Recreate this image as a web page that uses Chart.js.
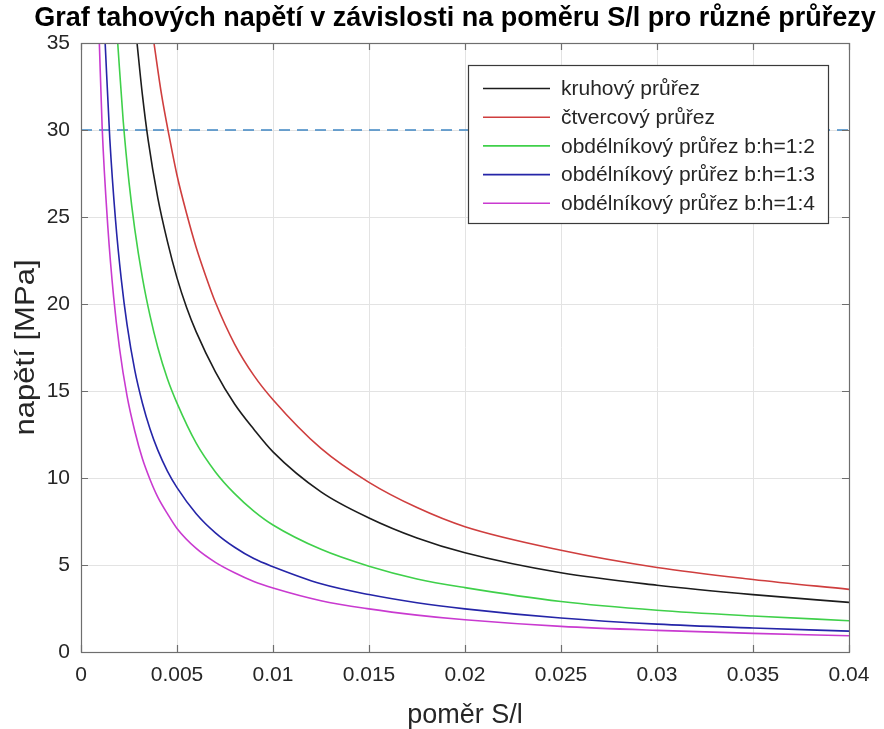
<!DOCTYPE html>
<html>
<head>
<meta charset="utf-8">
<script src="https://cdn.jsdelivr.net/npm/chart.js@4/dist/chart.umd.min.js"></script>
<style>
  html, body { margin: 0; padding: 0; background: #ffffff; }
  #wrap { width: 884px; height: 729px; }
</style>
</head>
<body>
<div id="wrap"><canvas id="graf" width="884" height="729"></canvas></div>
<script>
// Poměr S/l (x) a tahové napětí v MPa (y) pro jednotlivé průřezy
const kruhX = [0.0029, 0.0032, 0.0035, 0.004, 0.0045, 0.005, 0.0055, 0.006, 0.007, 0.008, 0.009, 0.01, 0.0125, 0.015, 0.0175, 0.02, 0.025, 0.03, 0.035, 0.04];
const kruhY = [35.2, 32.0, 29.4, 26.1, 23.6, 21.5, 19.8, 18.4, 16.1, 14.25, 12.8, 11.5, 9.2, 7.7, 6.55, 5.7, 4.55, 3.84, 3.3, 2.85];

const ctverecX = [0.0038, 0.0042, 0.0046, 0.005, 0.0055, 0.006, 0.0065, 0.007, 0.008, 0.009, 0.01, 0.0125, 0.015, 0.0175, 0.02, 0.025, 0.03, 0.035, 0.04];
const ctverecY = [35.0, 32.0, 29.6, 27.4, 25.2, 23.25, 21.6, 20.1, 17.7, 15.9, 14.5, 11.7, 9.75, 8.3, 7.2, 5.85, 4.86, 4.17, 3.6];

const obd12X = [0.0019, 0.0022, 0.0025, 0.0028, 0.0032, 0.0036, 0.004, 0.0045, 0.005, 0.006, 0.007, 0.008, 0.009, 0.01, 0.0125, 0.015, 0.0175, 0.02, 0.025, 0.03, 0.035, 0.04];
const obd12Y = [35.2, 30.5, 27.0, 24.3, 21.5, 19.3, 17.5, 15.7, 14.3, 12.0, 10.35, 9.1, 8.1, 7.3, 5.9, 4.93, 4.2, 3.7, 2.9, 2.4, 2.07, 1.8];

const obd13X = [0.00125, 0.0015, 0.0018, 0.0021, 0.0024, 0.0028, 0.0032, 0.0036, 0.004, 0.0045, 0.005, 0.006, 0.007, 0.008, 0.009, 0.01, 0.0125, 0.015, 0.0175, 0.02, 0.025, 0.03, 0.035, 0.04];
const obd13Y = [35.2, 29.5, 24.8, 21.4, 18.8, 16.2, 14.3, 12.8, 11.6, 10.4, 9.45, 7.95, 6.85, 6.02, 5.37, 4.9, 3.92, 3.3, 2.83, 2.48, 1.95, 1.6, 1.38, 1.2];

const obd14X = [0.00095, 0.0011, 0.0014, 0.0017, 0.002, 0.0024, 0.0028, 0.0032, 0.0036, 0.004, 0.0045, 0.005, 0.006, 0.007, 0.008, 0.009, 0.01, 0.0125, 0.015, 0.0175, 0.02, 0.025, 0.03, 0.035, 0.04];
const obd14Y = [35.2, 30.2, 24.4, 20.4, 17.5, 14.7, 12.7, 11.1, 9.9, 8.9, 7.95, 7.1, 5.95, 5.15, 4.55, 4.05, 3.68, 2.95, 2.48, 2.12, 1.85, 1.47, 1.24, 1.07, 0.93];

// Mez pevnosti (vodorovná čárkovaná čára)
const mezX = [0, 0.04];
const mezY = [30, 30];

const nazvy = ['kruhový průřez', 'čtvercový průřez', 'obdélníkový průřez b:h=1:2', 'obdélníkový průřez b:h=1:3', 'obdélníkový průřez b:h=1:4'];
const barvy = ['#1c1c1c', '#cf3e3e', '#3fd04a', '#2525a8', '#c93ad0'];

const xTicks = [0, 0.005, 0.01, 0.015, 0.02, 0.025, 0.03, 0.035, 0.04];
const xTickLabels = ['0', '0.005', '0.01', '0.015', '0.02', '0.025', '0.03', '0.035', '0.04'];
const yTicks = [0, 5, 10, 15, 20, 25, 30, 35];
const yTickLabels = ['0', '5', '10', '15', '20', '25', '30', '35'];

const titulek = 'Graf tahových napětí v závislosti na poměru S/l pro různé průřezy';
const popisX = 'poměr S/l';
const popisY = 'napětí [MPa]';

const FONT = '"Liberation Sans", Arial, Helvetica, sans-serif';
const TEXT = '#262626';

function body(xs, ys) { return xs.map((x, i) => ({ x: x, y: ys[i] })); }

const krivky = [[kruhX, kruhY], [ctverecX, ctverecY], [obd12X, obd12Y], [obd13X, obd13Y], [obd14X, obd14Y]];

const datasets = krivky.map((k, i) => ({
  label: nazvy[i],
  data: body(k[0], k[1]),
  borderColor: barvy[i],
  backgroundColor: barvy[i],
  borderWidth: 1.6,
  pointRadius: 0,
  cubicInterpolationMode: 'monotone',
  fill: false,
  order: 1
}));
datasets.push({
  label: '',
  data: body(mezX, mezY),
  borderColor: '#3f86c4',
  borderWidth: 1.6,
  borderDash: [11, 7],
  pointRadius: 0,
  fill: false,
  inLegend: false,
  order: 2
});

// Rámeček os, ticky dovnitř, legenda a popisky
const ramecek = {
  id: 'ramecek',
  afterDatasetsDraw(chart) {
    const { ctx, chartArea: a, scales } = chart;
    ctx.save();
    // rámeček
    ctx.strokeStyle = '#6e6e6e';
    ctx.lineWidth = 1.2;
    ctx.strokeRect(a.left + 0.5, a.top + 0.5, a.right - a.left, a.bottom - a.top);
    // ticky dovnitř na všech stranách
    const L = 7;
    ctx.beginPath();
    xTicks.forEach(v => {
      const px = Math.round(scales.x.getPixelForValue(v)) + 0.5;
      ctx.moveTo(px, a.bottom); ctx.lineTo(px, a.bottom - L);
      ctx.moveTo(px, a.top); ctx.lineTo(px, a.top + L);
    });
    yTicks.forEach(v => {
      const py = Math.round(scales.y.getPixelForValue(v)) + 0.5;
      ctx.moveTo(a.left, py); ctx.lineTo(a.left + L, py);
      ctx.moveTo(a.right, py); ctx.lineTo(a.right - L, py);
    });
    ctx.stroke();

    // legenda
    const bx = 468, by = 65, bw = 360, bh = 158;
    ctx.fillStyle = '#ffffff';
    ctx.fillRect(bx, by, bw, bh);
    ctx.strokeStyle = '#3a3a3a';
    ctx.lineWidth = 1.2;
    ctx.strokeRect(bx + 0.5, by + 0.5, bw, bh);
    ctx.font = '21px ' + FONT;
    ctx.textBaseline = 'middle';
    ctx.textAlign = 'left';
    const polozky = chart.data.datasets.filter(d => d.inLegend !== false);
    polozky.forEach((d, i) => {
      const y = 88.5 + i * 28.7;
      ctx.strokeStyle = d.borderColor;
      ctx.lineWidth = 1.6;
      ctx.beginPath();
      ctx.moveTo(483, y); ctx.lineTo(550, y);
      ctx.stroke();
      ctx.fillStyle = TEXT;
      ctx.fillText(d.label, 561, y + 1);
    });
    ctx.restore();
  },
  afterDraw(chart) {
    const { ctx, chartArea: a } = chart;
    ctx.save();
    ctx.fillStyle = '#000000';
    ctx.textAlign = 'center';
    ctx.textBaseline = 'middle';
    ctx.font = 'bold 27px ' + FONT;
    ctx.fillText(titulek, 455, 19);
    ctx.fillStyle = TEXT;
    ctx.font = '27px ' + FONT;
    ctx.fillText(popisX, (a.left + a.right) / 2, 716);
    ctx.translate(27, (a.top + a.bottom) / 2);
    ctx.rotate(-Math.PI / 2);
    ctx.scale(1.15, 1);
    ctx.font = '27px ' + FONT;
    ctx.fillText(popisY, 0, 0);
    ctx.restore();
  }
};

new Chart(document.getElementById('graf'), {
  type: 'line',
  data: { datasets: datasets },
  options: {
    responsive: false,
    animation: false,
    devicePixelRatio: 1,
    layout: { padding: { top: 43, right: 35, left: 0, bottom: 0 } },
    plugins: { legend: { display: false }, title: { display: false }, tooltip: { enabled: false } },
    scales: {
      x: {
        type: 'linear',
        min: 0, max: 0.04,
        afterBuildTicks(s) { s.ticks = xTicks.map(v => ({ value: v })); },
        afterFit(s) { s.height = 77; },
        ticks: {
          callback: (v) => xTickLabels[xTicks.indexOf(v)] ?? '',
          color: TEXT,
          font: { family: FONT, size: 21 },
          padding: 11,
          maxRotation: 0,
          autoSkip: false
        },
        grid: { color: '#e3e3e3', lineWidth: 1, drawTicks: false },
        border: { display: false }
      },
      y: {
        type: 'linear',
        min: 0, max: 35,
        afterBuildTicks(s) { s.ticks = yTicks.map(v => ({ value: v })); },
        afterFit(s) { s.width = 81; },
        ticks: {
          callback: (v) => yTickLabels[yTicks.indexOf(v)] ?? '',
          color: TEXT,
          font: { family: FONT, size: 21 },
          padding: 11,
          autoSkip: false
        },
        grid: { color: '#e3e3e3', lineWidth: 1, drawTicks: false },
        border: { display: false }
      }
    }
  },
  plugins: [ramecek]
});
</script>
</body>
</html>
